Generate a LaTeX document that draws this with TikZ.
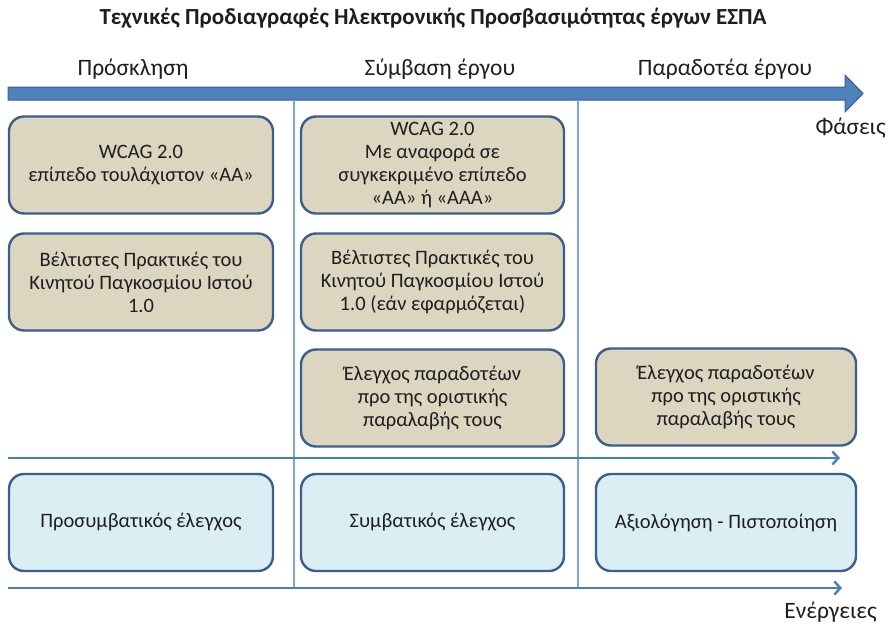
\documentclass[tikz,border=0pt]{standalone}
\usepackage{fontspec}
\setmainfont{Carlito}
\usetikzlibrary{arrows.meta}
\definecolor{tanfill}{HTML}{DCD6C0}
\definecolor{boxline}{HTML}{3B5E8C}
\definecolor{bluefill}{HTML}{DBEEF4}
\definecolor{axisblue}{HTML}{4A7EBB}
\definecolor{gridblue}{HTML}{7FA3D3}
\definecolor{bigfill}{HTML}{4F81BD}
\definecolor{txt}{HTML}{1E1E1E}
\tikzset{
  basebox/.style={rectangle, rounded corners=15pt, draw=boxline, line width=2.4pt,
    minimum height=97pt, align=center, text=txt, inner sep=2pt,
    font=\fontsize{20.5}{23}\selectfont},
  tanbox/.style={basebox, fill=tanfill},
  bluebox/.style={basebox, fill=bluefill},
  phaselbl/.style={text=txt, font=\fontsize{23.5}{26}\selectfont, inner sep=0pt},
  axisline/.style={draw=axisblue, line width=2.4pt,
    -{Straight Barb[length=6pt,width=13pt,line width=2.4pt]}},
  gridline/.style={draw=gridblue, line width=1.4pt},
}
\begin{document}
\begin{tikzpicture}[x=1pt,y=-1pt]
\useasboundingbox (0,0) rectangle (890,626);
% title
\node[text=txt, font=\bfseries\fontsize{23}{26}\selectfont, inner sep=0pt] (title) at (433,18)
  {Τεχνικές Προδιαγραφές Ηλεκτρονικής Προσβασιμότητας έργων ΕΣΠΑ};
% phase labels
\node[phaselbl] (p1) at (133,69) {Πρόσκληση};
\node[phaselbl] (p2) at (440,69) {Σύμβαση έργου};
\node[phaselbl] (p3) at (725,69) {Παραδοτέα έργου};
% big arrow
\draw[fill=bigfill, draw=boxline, line width=1pt]
  (8,87) -- (845,87) -- (845,75) -- (863,93.5) -- (845,112) -- (845,100) -- (8,100) -- cycle;
\node[phaselbl, anchor=east] (fas) at (886,128) {Φάσεις};
% grid lines
\coordinate (v1t) at (294,100); \coordinate (v1b) at (294,588);
\coordinate (v2t) at (578,100); \coordinate (v2b) at (578,588);
\draw[gridline] (v1t) -- (v1b);
\draw[gridline] (v2t) -- (v2b);
% axes
\coordinate (a1s) at (8,458); \coordinate (a1e) at (840,458);
\coordinate (a2s) at (8,588); \coordinate (a2e) at (842,588);
\draw[axisline] (a1s) -- (a1e);
\draw[axisline] (a2s) -- (a2e);
\node[phaselbl, anchor=east] (ene) at (877,612) {Ενέργειες};
% boxes
\node[tanbox, minimum width=264pt] (l1) at (141,165) {WCAG 2.0\\επίπεδο τουλάχιστον «ΑΑ»};
\node[tanbox, minimum width=264pt] (l2) at (141,282) {Βέλτιστες Πρακτικές του\\Κινητού Παγκοσμίου Ιστού\\1.0};
\node[bluebox, minimum width=264pt] (l4) at (141,522.5) {Προσυμβατικός έλεγχος};
\node[tanbox, minimum width=263pt] (m1) at (432.5,165) {WCAG 2.0\\Με αναφορά σε\\συγκεκριμένο επίπεδο\\«ΑΑ» ή «ΑΑΑ»};
\node[tanbox, minimum width=263pt] (m2) at (432.5,282) {Βέλτιστες Πρακτικές του\\Κινητού Παγκοσμίου Ιστού\\1.0 (εάν εφαρμόζεται)};
\node[tanbox, minimum width=263pt] (m3) at (432.5,398) {Έλεγχος παραδοτέων\\προ της οριστικής\\παραλαβής τους};
\node[bluebox, minimum width=263pt] (m4) at (432.5,522.5) {Συμβατικός έλεγχος};
\node[tanbox, minimum width=260pt] (r3) at (726,397) {Έλεγχος παραδοτέων\\προ της οριστικής\\παραλαβής τους};
\node[bluebox, minimum width=260pt] (r4) at (726,522.5) {Αξιολόγηση - Πιστοποίηση};
\end{tikzpicture}
\end{document}
